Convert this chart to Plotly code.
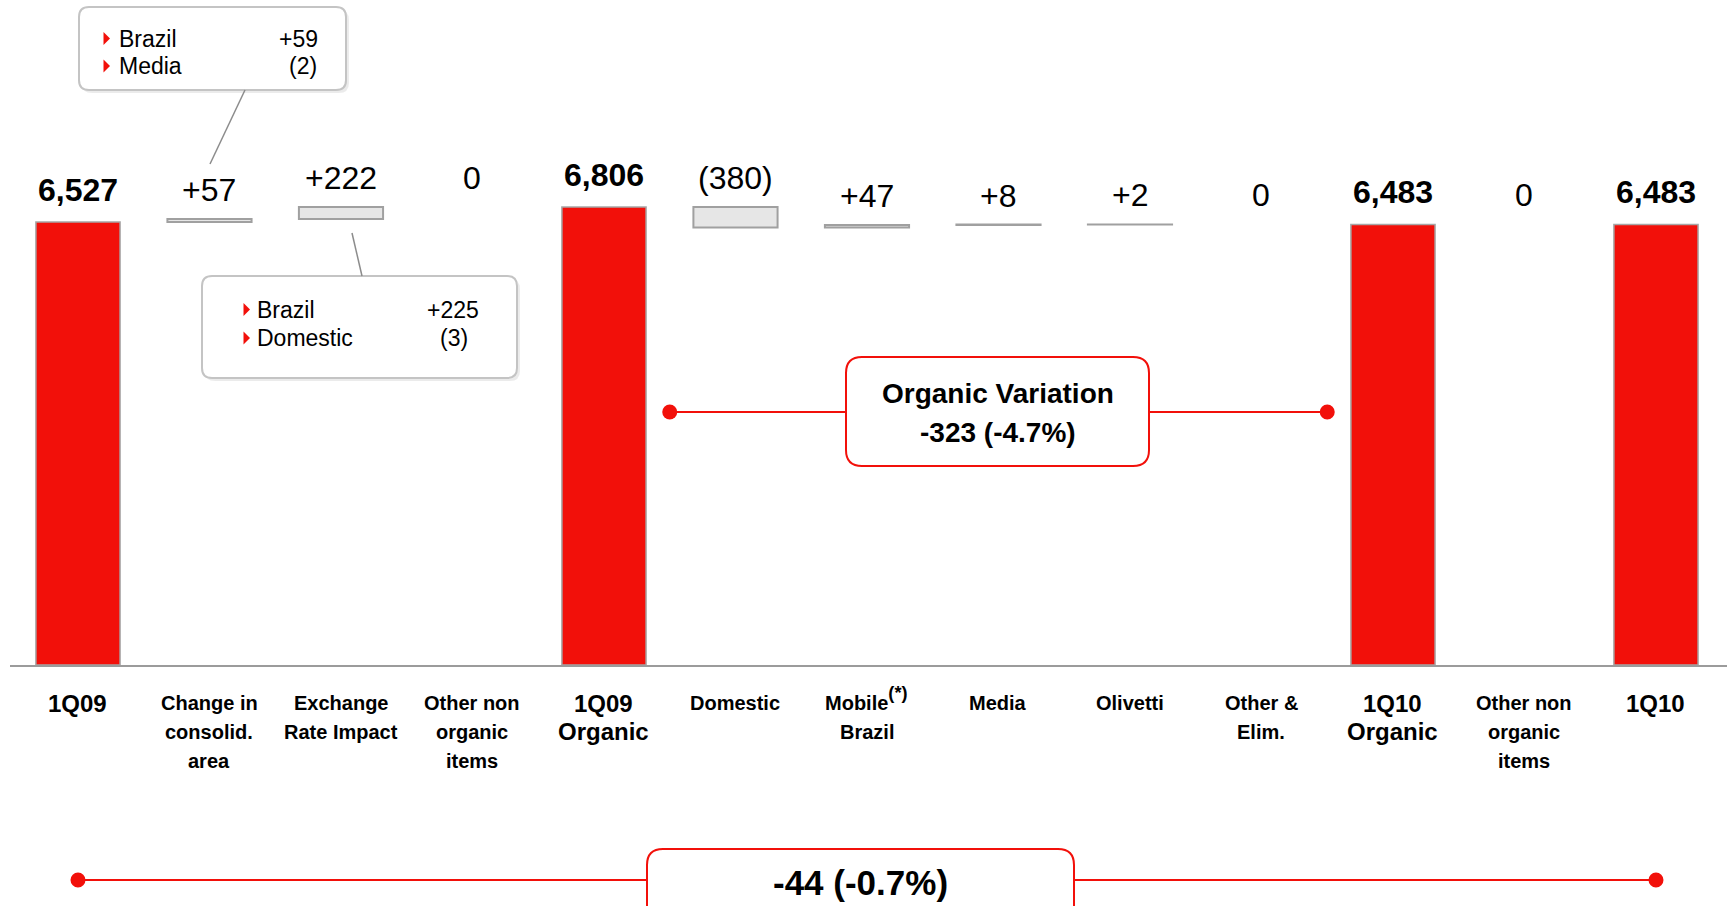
import plotly.graph_objects as go

# ---------------- data ----------------
CATEGORIES = [
    "1Q09", "Change in\nconsolid.\narea", "Exchange\nRate Impact", "Other non\norganic\nitems",
    "1Q09\nOrganic", "Domestic", "Mobile<span style='font-size:26px'><sup>(*)</sup></span>\nBrazil",
    "Media", "Olivetti",
    "Other &\nElim.", "1Q10\nOrganic", "Other non\norganic\nitems", "1Q10",
]
VALUES = [6527, 57, 222, 0, 6806, -380, 47, 8, 2, 0, 6483, 0, 6483]
KINDS = ["total", "delta", "delta", "delta", "total", "delta", "delta", "delta", "delta",
         "delta", "total", "delta", "total"]

CALLOUT_TOP_LABELS = ["Brazil", "Media"]
CALLOUT_TOP_VALUES = ["+59", "(2)"]
CALLOUT_MID_LABELS = ["Brazil", "Domestic"]
CALLOUT_MID_VALUES = ["+225", "(3)"]
ORGANIC_LINES = ["Organic Variation", "-323 (-4.7%)"]
TOTAL_VAR_TEXT = "-44 (-0.7%)"
ORGANIC_SPAN = [4.5, 9.5]
TOTAL_SPAN = [0, 12]

# ---------------- layout constants ----------------
W, H = 1727, 906
X_LEFT = 10
X_RANGE = [-0.517, 12.54]
PLOT_BOTTOM = 665
Y_RANGE = [-1707, 10654]
RED = "#F2100A"
FONT = "Liberation Sans, Arial, sans-serif"


def xp(px):
    return px / W


def yp(py):
    return 1 - py / H


def fmt_delta(v):
    if v > 0:
        return "+%d" % v
    if v < 0:
        return "(%d)" % (-v)
    return "0"


def rrect(x0, y0, x1, y1, r):
    pts = [
        ("M", [(x0 + r, y0)]), ("L", [(x1 - r, y0)]), ("Q", [(x1, y0), (x1, y0 + r)]),
        ("L", [(x1, y1 - r)]), ("Q", [(x1, y1), (x1 - r, y1)]), ("L", [(x0 + r, y1)]),
        ("Q", [(x0, y1), (x0, y1 - r)]), ("L", [(x0, y0 + r)]), ("Q", [(x0, y0), (x0 + r, y0)]),
    ]
    s = ""
    for cmd, ps in pts:
        s += cmd + " " + " ".join("%.5f,%.5f" % (xp(a), yp(b)) for a, b in ps) + " "
    return s + "Z"


# ---------------- compute waterfall geometry ----------------
tot_x, tot_h, tot_b = [], [], []
del_x, del_h, del_b = [], [], []
label_pos = []
level = 0
for i, (v, k) in enumerate(zip(VALUES, KINDS)):
    if k == "total":
        level = v
        tot_x.append(i)
        tot_b.append(Y_RANGE[0])
        tot_h.append(v - Y_RANGE[0])
        label_pos.append((i, v, "<b>{:,}</b>".format(v), 32, 12))
    else:
        lo, hi = min(level, level + v), max(level, level + v)
        if v != 0:
            del_x.append(i)
            del_b.append(lo)
            del_h.append(hi - lo)
        level += v
        label_pos.append((i, hi, fmt_delta(v), 32, 9))

fig = go.Figure()
fig.add_trace(go.Bar(
    x=tot_x, y=tot_h, base=tot_b, width=0.64,
    marker=dict(color=RED, line=dict(color="#A6A6A6", width=1.5)),
    hoverinfo="skip",
))
fig.add_trace(go.Bar(
    x=del_x, y=del_h, base=del_b, width=0.64,
    marker=dict(color="#E6E6E6", line=dict(color="#A0A0A0", width=2)),
    hoverinfo="skip",
))

annotations = []
shapes = []

# value labels
for i, top, txt, size, shift in label_pos:
    annotations.append(dict(
        x=i, y=top, xref="x", yref="y", text=txt, showarrow=False,
        yanchor="bottom", xanchor="center", yshift=shift,
        font=dict(family=FONT, size=size, color="#000000"),
    ))

# category labels
for i, (cat, k) in enumerate(zip(CATEGORIES, KINDS)):
    lines = cat.split("\n")
    if k == "total":
        centers = [703, 731]
        size = 24
    else:
        centers = [703, 732, 761]
        size = 20
    for j, l in enumerate(lines):
        annotations.append(dict(
            x=i, y=yp(centers[j]), xref="x", yref="paper", text="<b>%s</b>" % l, showarrow=False,
            xanchor="center", yanchor="middle", yshift=(5 if "<sup>" in l else 0),
            font=dict(family=FONT, size=size, color="#000000"),
        ))


# grey callouts
def callout(box, rows_y, tri_x, text_x, labels, values, value_right, conn):
    x0, y0, x1, y1 = box
    shapes.append(dict(type="path", xref="paper", yref="paper",
                       path=rrect(x0 + 3, y0 + 3, x1 + 3, y1 + 3, 10),
                       fillcolor="rgba(0,0,0,0.08)", line=dict(width=0), layer="above"))
    shapes.append(dict(type="path", xref="paper", yref="paper",
                       path=rrect(x0, y0, x1, y1, 10),
                       fillcolor="#FFFFFF", line=dict(color="#C4C4C4", width=2), layer="above"))
    shapes.append(dict(type="line", xref="paper", yref="paper",
                       x0=xp(conn[0][0]), y0=yp(conn[0][1]), x1=xp(conn[1][0]), y1=yp(conn[1][1]),
                       line=dict(color="#8C8C8C", width=1.5), layer="above"))
    for ry, lab, val, vr in zip(rows_y, labels, values, value_right):
        p = "M %.5f,%.5f L %.5f,%.5f L %.5f,%.5f Z" % (
            xp(tri_x), yp(ry - 6.5), xp(tri_x + 6.5), yp(ry), xp(tri_x), yp(ry + 6.5))
        shapes.append(dict(type="path", xref="paper", yref="paper", path=p,
                           fillcolor=RED, line=dict(width=0), layer="above"))
        annotations.append(dict(x=xp(text_x), y=yp(ry), xref="paper", yref="paper", text=lab,
                                showarrow=False, xanchor="left", yanchor="middle",
                                font=dict(family=FONT, size=23, color="#000000")))
        annotations.append(dict(x=xp(vr), y=yp(ry), xref="paper", yref="paper", text=val,
                                showarrow=False, xanchor="right", yanchor="middle",
                                font=dict(family=FONT, size=23, color="#000000")))


callout((79, 7, 346, 90), [38.5, 66], 103.5, 117, CALLOUT_TOP_LABELS, CALLOUT_TOP_VALUES,
        [320, 319], [(245, 90), (210, 164)])
callout((202, 276, 517, 378), [309.5, 338], 243.5, 255, CALLOUT_MID_LABELS, CALLOUT_MID_VALUES,
        [481, 470], [(352, 233), (362, 276)])


# red span indicators
def span(x_a, x_b, y_px, box, texts, sizes, text_y):
    shapes.append(dict(type="line", xref="x", yref="paper", x0=x_a, x1=x_b,
                       y0=yp(y_px), y1=yp(y_px), line=dict(color=RED, width=2), layer="above"))
    for xv in (x_a, x_b):
        shapes.append(dict(type="circle", xref="x", yref="paper", xsizemode="pixel", xanchor=xv,
                           x0=-7.5, x1=7.5, y0=yp(y_px + 7.5), y1=yp(y_px - 7.5),
                           fillcolor=RED, line=dict(width=0), layer="above"))
    x0, y0, x1, y1 = box
    shapes.append(dict(type="path", xref="paper", yref="paper", path=rrect(x0, y0, x1, y1, 16),
                       fillcolor="#FFFFFF", line=dict(color=RED, width=2), layer="above"))
    cx = (x0 + x1) / 2
    for t, s, ty in zip(texts, sizes, text_y):
        annotations.append(dict(x=xp(cx), y=yp(ty), xref="paper", yref="paper",
                                text="<b>%s</b>" % t, showarrow=False,
                                xanchor="center", yanchor="middle",
                                font=dict(family=FONT, size=s, color="#000000")))


span(ORGANIC_SPAN[0], ORGANIC_SPAN[1], 412, (846, 357, 1149, 466), ORGANIC_LINES, [28, 28],
     [393, 432])
span(TOTAL_SPAN[0], TOTAL_SPAN[1], 880, (647, 849, 1074, 935), [TOTAL_VAR_TEXT], [35], [882])

fig.update_layout(
    width=W, height=H, margin=dict(l=0, r=0, t=0, b=0),
    paper_bgcolor="#FFFFFF", plot_bgcolor="#FFFFFF",
    barmode="overlay", showlegend=False,
    xaxis=dict(domain=[X_LEFT / W, 1], range=X_RANGE, showline=True, linecolor="#9B9B9B",
               linewidth=2, showticklabels=False, showgrid=False, zeroline=False, ticks="",
               fixedrange=True),
    yaxis=dict(domain=[1 - PLOT_BOTTOM / H, 1], range=Y_RANGE, visible=False, fixedrange=True),
    annotations=annotations,
    shapes=shapes,
    font=dict(family=FONT),
)

fig.write_html("out.html", config={"displayModeBar": False})
